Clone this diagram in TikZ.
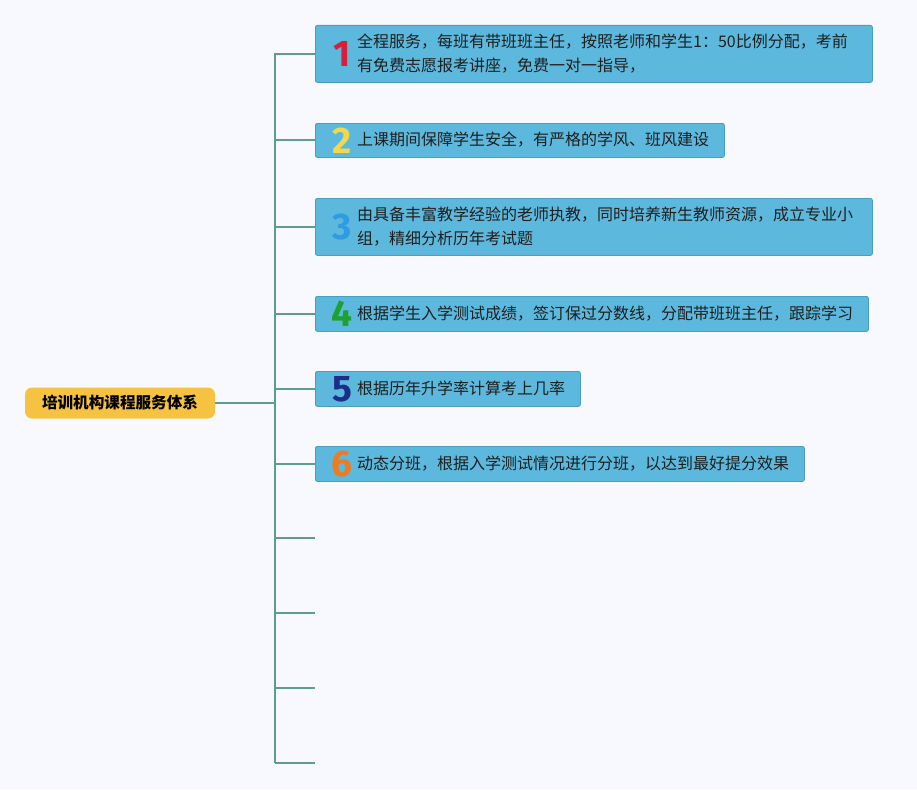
\documentclass[tikz,border=0pt]{standalone}
\usepackage{fontspec}
\setmainfont{Noto Sans CJK SC}
\newfontfamily\numfont{Fira Sans}
\begin{document}
\begin{tikzpicture}[x=1pt,y=-1pt,
  line/.style={draw=branchc, line width=2pt},
  item/.style={draw=boxborder, fill=boxfill, rounded corners=2pt, line width=0.8pt, anchor=north west, inner sep=0pt},
  num/.style={font=\numfont\bfseries\fontsize{37}{37}\selectfont, anchor=center},
  txt/.style={font=\fontsize{16}{24}\selectfont, anchor=west, align=left, inner sep=0pt, text=black!88}]
\definecolor{bgc}{HTML}{F8F9FE}
\definecolor{branchc}{HTML}{5E9C8C}
\definecolor{boxfill}{HTML}{5CB8DC}
\definecolor{boxborder}{HTML}{4C9EBE}
\definecolor{rootc}{HTML}{F5C242}
\definecolor{n1}{HTML}{D6203A}
\definecolor{n2}{HTML}{F3D84B}
\definecolor{n3}{HTML}{2E9CE2}
\definecolor{n4}{HTML}{1FA032}
\definecolor{n5}{HTML}{1C2E88}
\definecolor{n6}{HTML}{F27A1E}
\fill[bgc] (0,0) rectangle (917,789);
\useasboundingbox (0,0) rectangle (917,789);
% root
\node[fill=rootc, rounded corners=7pt, minimum width=190pt, minimum height=31pt, inner sep=0pt,
  font=\bfseries\fontsize{15.6}{15.6}\selectfont] (root) at (120,403) {培训机构课程服务体系};
\coordinate (top) at (275,53);
\coordinate (bot) at (275,763);
\draw[line] (root.east) -- (root.east -| top);
\draw[line] (top) -- (bot);
% boxes
\node[item, minimum width=557pt, minimum height=57pt] (b1) at (315,25) {};
\node[item, minimum width=409pt, minimum height=34pt] (b2) at (315,123) {};
\node[item, minimum width=557pt, minimum height=57pt] (b3) at (315,198) {};
\node[item, minimum width=553pt, minimum height=35pt] (b4) at (315,296) {};
\node[item, minimum width=265pt, minimum height=35pt] (b5) at (315,371) {};
\node[item, minimum width=489pt, minimum height=35pt] (b6) at (315,446) {};
\foreach \i in {1,...,6}{\draw[line] (b\i.west -| top) -- (b\i.west);}
% empty branches
\coordinate (e1) at (315,538);
\coordinate (e2) at (315,613);
\coordinate (e3) at (315,688);
\coordinate (e4) at (315,763);
\foreach \i in {1,...,4}{\draw[line] (e\i -| top) -- (e\i);}
% numbers
\node[num, text=n1] (d1) at (342,54) {1};
\node[num, text=n2] (d2) at (342,141) {2};
\node[num, text=n3] (d3) at (342,227) {3};
\node[num, text=n4] (d4) at (342,314) {4};
\node[num, text=n5] (d5) at (342,389) {5};
\node[num, text=n6] (d6) at (342,464) {6};
% texts
\node[txt] (t1) at (357,54) {全程服务，每班有带班班主任，按照老师和学生1：50比例分配，考前\\有免费志愿报考讲座，免费一对一指导，};
\node[txt] (t2) at (357,140) {上课期间保障学生安全，有严格的学风、班风建设};
\node[txt] (t3) at (357,227) {由具备丰富教学经验的老师执教，同时培养新生教师资源，成立专业小\\组，精细分析历年考试题};
\node[txt] (t4) at (357,313.5) {根据学生入学测试成绩，签订保过分数线，分配带班班主任，跟踪学习};
\node[txt] (t5) at (357,388.5) {根据历年升学率计算考上几率};
\node[txt] (t6) at (357,463.5) {动态分班，根据入学测试情况进行分班，以达到最好提分效果};
\end{tikzpicture}
\end{document}
